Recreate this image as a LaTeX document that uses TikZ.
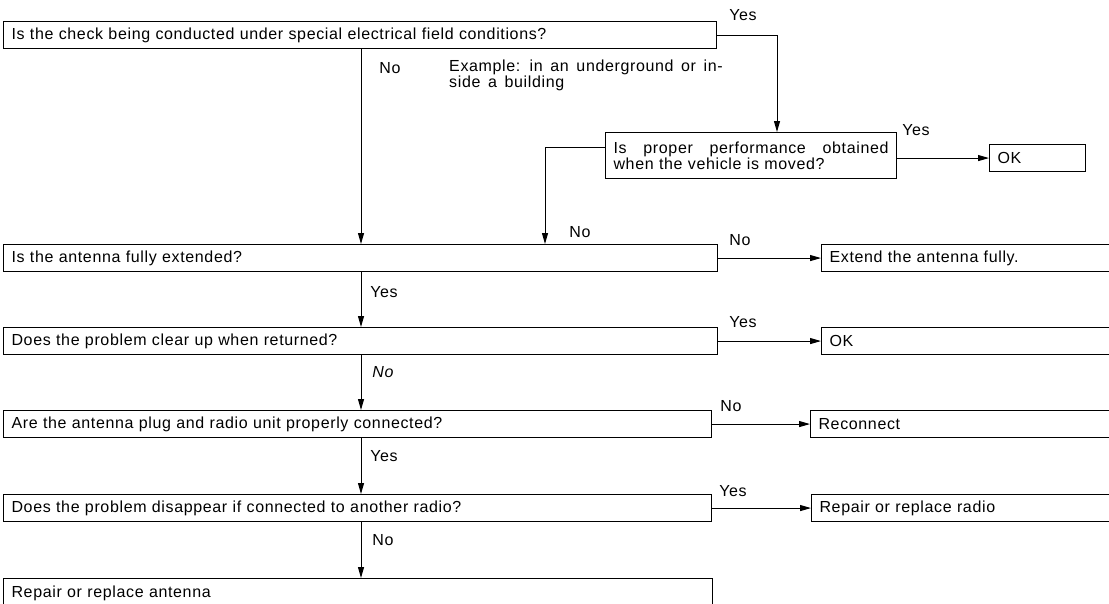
\documentclass[tikz,border=0pt]{standalone}
\usepackage{fontspec}
\setmainfont{Liberation Sans}[LetterSpace=4,WordSpace=1.5]
\usetikzlibrary{arrows.meta}

\tikzset{
  box/.style={draw, line width=1.1pt, rectangle, anchor=north west,
    inner xsep=8pt, inner ysep=3pt, minimum height=27pt,
    text width=#1, align=left},
  lbl/.style={inner sep=0pt},
  arr/.style={line width=1pt, -{Triangle[length=11pt,width=6pt]}},
}

\begin{document}
\begin{tikzpicture}[x=1pt, y=-1pt, font=\fontsize{16}{16}\selectfont]
\useasboundingbox (0,0) rectangle (1109,603);
\clip (0,0) rectangle (1109,603);

% questions, left column
\node[box=697pt] (q1) at (3,21) {Is the check being conducted under special electrical field conditions?};
\node[box=698pt] (ant) at (3,244) {Is the antenna fully extended?};
\node[box=698pt] (clr) at (3,327) {Does the problem clear up when returned?};
\node[box=692pt] (plug) at (3,410) {Are the antenna plug and radio unit properly connected?};
\node[box=692pt] (radio) at (3,494) {Does the problem disappear if connected to another radio?};
\node[box=693pt, minimum height=0pt, text height=16pt, text depth=20pt] (repa) at (3,578) {Repair or replace antenna};

% side check
\node[box=275pt, minimum height=46pt] (q2) at (605,132)
  {\hbox to \hsize{Is\hfill proper\hfill performance\hfill obtained}\\when the vehicle is moved?};
\node[box=80pt] (ok1) at (989,144) {OK};

% results, right column
\node[box=400pt] (ext) at (821,244) {Extend the antenna fully.};
\node[box=400pt] (ok2) at (821,327) {OK};
\node[box=400pt] (recon) at (810,410) {Reconnect};
\node[box=400pt] (repr) at (811,494) {Repair or replace radio};

% branch labels
\node[lbl] (yes1) at (743,15) {Yes};
\node[lbl] (no1) at (390,68) {No};
\node[lbl, anchor=west, align=left] (note) at (449,75) {Example: in an underground or in-\\side a building};
\node[lbl] (yes2) at (916,130) {Yes};
\node[lbl] (no2) at (580,232) {No};
\node[lbl] (no3) at (740,240) {No};
\node[lbl] (yes3) at (384,292) {Yes};
\node[lbl] (yes4) at (743,322) {Yes};
\node[lbl] (no4) at (383,372) {\itshape No};
\node[lbl] (no5) at (731,406) {No};
\node[lbl] (yes5) at (384,456) {Yes};
\node[lbl] (yes6) at (733,491) {Yes};
\node[lbl] (no6) at (383,540) {No};

\coordinate (spine) at (361,0);
\coordinate (drop) at (777,0);
\coordinate (back) at (545,0);

\draw[arr] (q1.south -| spine) -- (ant.north -| spine);
\draw[arr] (q1.east) -| (q2.north -| drop);
\draw[arr] ([yshift=8pt]q2.west) -| (ant.north -| back);
\draw[arr] (q2.east |- ok1.west) -- (ok1.west);

\foreach \a/\b in {ant/clr,clr/plug,plug/radio,radio/repa}
  \draw[arr] (\a.south -| spine) -- (\b.north -| spine);
\foreach \a/\b in {ant/ext,clr/ok2,plug/recon,radio/repr}
  \draw[arr] (\a.east) -- (\b.west);
\end{tikzpicture}
\end{document}
